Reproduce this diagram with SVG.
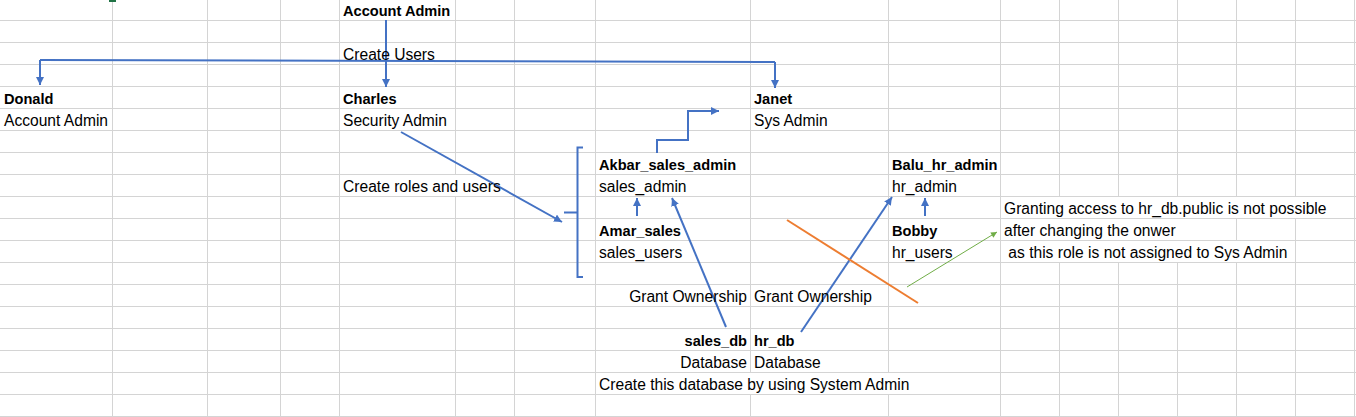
<svg xmlns="http://www.w3.org/2000/svg" width="1356" height="417" viewBox="0 0 1356 417">
<style>
.grid{stroke:#D4D4D4;stroke-width:1;fill:none}
.t{font-family:"Liberation Sans",Arial,sans-serif;font-size:15.6px;fill:#000}
.b{font-family:"Liberation Sans",Arial,sans-serif;font-size:14.6px;font-weight:bold;fill:#000}
.r{text-anchor:end}
.blue{stroke:#4472C4;stroke-width:2;fill:none}
.orange{stroke:#ED7D31;stroke-width:2;fill:none}
.green{stroke:#70AD47;stroke-width:1;fill:none}
</style>
<defs>
<marker id="ab" viewBox="0 0 10 10" refX="10" refY="5" markerWidth="8" markerHeight="8" markerUnits="userSpaceOnUse" orient="auto"><path d="M0,0 L10,5 L0,10 z" fill="#4472C4"/></marker>
<marker id="ag" viewBox="0 0 10 10" refX="10" refY="5" markerWidth="7" markerHeight="6" markerUnits="userSpaceOnUse" orient="auto"><path d="M0,0 L10,5 L0,10 z" fill="#70AD47"/></marker>
</defs>
<rect width="1356" height="417" fill="#fff"/>
<g id="gridlines">
<path class="grid" d="M0,20.5H1356M0,42.5H1356M0,64.5H1356M0,86.5H1356M0,108.5H1356M0,130.5H1356M0,152.5H1356M0,174.5H1356M0,196.5H1356M0,218.5H1356M0,240.5H1356M0,262.5H1356M0,284.5H1356M0,306.5H1356M0,328.5H1356M0,350.5H1356M0,372.5H1356M0,394.5H1356M0,416.5H1356"/>
<path class="grid" d="M112.5,0V417M207.5,0V417M280.5,0V417M339.5,0V417M455.5,0V175M455.5,196V417M514.5,0V417M595.5,0V417M750.5,0V373M750.5,394V417M888.5,0V373M888.5,394V417M1000.5,0V417M1059.5,0V197M1059.5,262V417M1118.5,0V197M1118.5,262V417M1177.5,0V197M1177.5,262V417M1236.5,0V197M1236.5,218V241M1236.5,262V417M1295.5,0V197M1295.5,218V417M1354.5,0V417"/>
<rect x="109" y="0" width="7" height="2" fill="#217346"/>
</g>
<g id="connectors">
<path class="blue" d="M386,20 V87" marker-end="url(#ab)"/>
<path class="blue" d="M40,60 L775,62"/>
<path class="blue" d="M40,60 V85" marker-end="url(#ab)"/>
<path class="blue" d="M775,62 V88" marker-end="url(#ab)"/>
<path class="blue" d="M657,153 V140 H688 V111 H719" marker-end="url(#ab)"/>
<path class="blue" d="M401,132 L562,222" marker-end="url(#ab)"/>
<path class="blue" d="M583,147.5 H577.5 V277 H583 M564,212.5 H577.5"/>
<path class="blue" d="M637,216 V198" marker-end="url(#ab)"/>
<path class="blue" d="M726,327 L672,198" marker-end="url(#ab)"/>
<path class="blue" d="M801,332 L892,197" marker-end="url(#ab)"/>
<path class="blue" d="M925,216 V198" marker-end="url(#ab)"/>
<path class="orange" d="M787,220 L918,303"/>
<path class="green" d="M907,287 L997,232" marker-end="url(#ag)"/>
</g>
<g id="account-admin"><text class="b" x="343" y="15.5">Account Admin</text></g>
<g id="label-create-users"><text class="t" x="343" y="59.5">Create Users</text></g>
<g id="donald"><text class="b" x="4" y="103.5">Donald</text><text class="t" x="4" y="125.5">Account Admin</text></g>
<g id="charles"><text class="b" x="343" y="103.5">Charles</text><text class="t" x="343" y="125.5">Security Admin</text></g>
<g id="janet"><text class="b" x="754" y="103.5">Janet</text><text class="t" x="754" y="125.5">Sys Admin</text></g>
<g id="label-create-roles"><text class="t" x="343" y="191.5">Create roles and users</text></g>
<g id="akbar"><text class="b" x="599" y="169.5">Akbar_sales_admin</text><text class="t" x="599" y="191.5">sales_admin</text></g>
<g id="amar"><text class="b" x="599" y="235.5">Amar_sales</text><text class="t" x="599" y="257.5">sales_users</text></g>
<g id="balu"><text class="b" x="892" y="169.5">Balu_hr_admin</text><text class="t" x="892" y="191.5">hr_admin</text></g>
<g id="bobby"><text class="b" x="892" y="235.5">Bobby</text><text class="t" x="892" y="257.5">hr_users</text></g>
<g id="note"><text class="t" x="1004" y="213.5">Granting access to hr_db.public is not possible</text><text class="t" x="1004" y="235.5">after changing the onwer</text><text class="t" x="1004" y="257.5" xml:space="preserve"> as this role is not assigned to Sys Admin</text></g>
<g id="label-grant"><text class="t r" x="747" y="301.5">Grant Ownership</text><text class="t" x="754" y="301.5">Grant Ownership</text></g>
<g id="sales-db"><text class="b r" x="747" y="345.5">sales_db</text><text class="t r" x="747" y="367.5">Database</text></g>
<g id="hr-db"><text class="b" x="754" y="345.5">hr_db</text><text class="t" x="754" y="367.5">Database</text></g>
<g id="label-create-db"><text class="t" x="599" y="389.5">Create this database by using System Admin</text></g>
</svg>
